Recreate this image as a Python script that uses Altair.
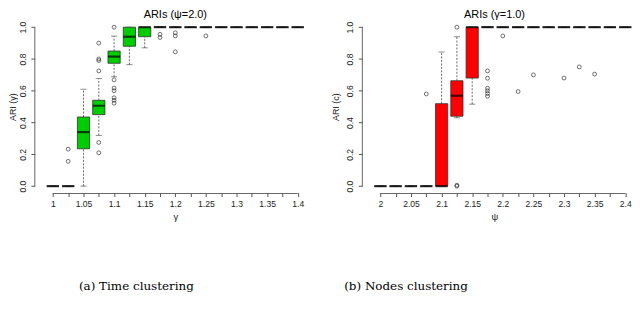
import altair as alt
import pandas as pd

# ---------------- data ----------------
gamma_labels = ["1", "1.025", "1.05", "1.075", "1.1", "1.125", "1.15", "1.175", "1.2",
                "1.225", "1.25", "1.275", "1.3", "1.325", "1.35", "1.375", "1.4"]
psi_labels = ["2", "2.025", "2.05", "2.075", "2.1", "2.125", "2.15", "2.175", "2.2",
              "2.225", "2.25", "2.275", "2.3", "2.325", "2.35", "2.375", "2.4"]

# (a) Time clustering, ARI(gamma), psi = 2.0
time_q1 = [0, 0, 0.235, 0.45, 0.773, 0.88, 0.94, 1, 1, 1, 1, 1, 1, 1, 1, 1, 1]
time_med = [0, 0, 0.34, 0.506, 0.815, 0.94, 1, 1, 1, 1, 1, 1, 1, 1, 1, 1, 1]
time_q3 = [0, 0, 0.435, 0.54, 0.85, 1, 1, 1, 1, 1, 1, 1, 1, 1, 1, 1, 1]
time_wlo = [0, 0, 0, 0.32, 0.688, 0.764, 0.87, 1, 1, 1, 1, 1, 1, 1, 1, 1, 1]
time_whi = [0, 0, 0.61, 0.677, 0.944, 1, 1, 1, 1, 1, 1, 1, 1, 1, 1, 1, 1]
time_out_cat = ["1.025", "1.025",
                "1.075", "1.075", "1.075", "1.075", "1.075", "1.075",
                "1.1", "1.1", "1.1", "1.1", "1.1", "1.1", "1.1",
                "1.175", "1.175", "1.2", "1.2", "1.2", "1.25"]
time_out_val = [0.233, 0.156,
                0.90, 0.80, 0.79, 0.725, 0.275, 0.21,
                1.0, 0.669, 0.617, 0.60, 0.556, 0.54, 0.522,
                0.955, 0.935, 0.965, 0.945, 0.845, 0.945]

# (b) Nodes clustering, ARI(c), gamma = 1.0
node_q1 = [0, 0, 0, 0, 0, 0.44, 0.68, 1, 1, 1, 1, 1, 1, 1, 1, 1, 1]
node_med = [0, 0, 0, 0, 0, 0.569, 1, 1, 1, 1, 1, 1, 1, 1, 1, 1, 1]
node_q3 = [0, 0, 0, 0, 0.519, 0.663, 1, 1, 1, 1, 1, 1, 1, 1, 1, 1, 1]
node_wlo = [0, 0, 0, 0, 0, 0.43, 0.516, 1, 1, 1, 1, 1, 1, 1, 1, 1, 1]
node_whi = [0, 0, 0, 0, 0.844, 0.94, 1, 1, 1, 1, 1, 1, 1, 1, 1, 1, 1]
node_out_cat = ["2.075", "2.125", "2.125", "2.125",
                "2.175", "2.175", "2.175", "2.175", "2.175", "2.175",
                "2.2", "2.225", "2.25", "2.3", "2.325", "2.35"]
node_out_val = [0.58, 1.0, 0.0, 0.006,
                0.725, 0.679, 0.616, 0.60, 0.583, 0.566,
                0.945, 0.595, 0.70, 0.68, 0.75, 0.705]

y_ticks = [0.0, 0.2, 0.4, 0.6, 0.8, 1.0]

# ---------------- styling ----------------
FONT = "Liberation Sans"
H = 172.8
STEP = 15.4
BOXW = 12.3


def panel(labels, q1, med, q3, wlo, whi, out_cat, out_val, fill, title, ytitle,
          xtitle, caption, caption_x, width, ytitle_pad):
    n = len(labels)
    xmax = -0.18 + width / STEP
    box = pd.DataFrame({"pos": list(range(1, n + 1)), "q1": q1, "med": med,
                        "q3": q3, "wlo": wlo, "whi": whi})
    out = pd.DataFrame({"pos": [labels.index(c) + 1 for c in out_cat], "val": out_val})
    shown = [l if i % 2 == 0 else "" for i, l in enumerate(labels)]
    label_expr = "[" + ",".join("'" + s + "'" for s in shown) + "][datum.value - 1]"

    xs = alt.Scale(domain=[-0.18, xmax], nice=False, zero=False, padding=0)
    ys = alt.Scale(domain=[-0.04, 1.04], nice=False, zero=False, padding=0)
    xaxis = alt.Axis(values=list(range(1, n + 1)), labelExpr=label_expr, title=xtitle,
                     domain=False, grid=False, tickSize=4, tickColor="#555",
                     labelPadding=3, labelFontSize=8.6, labelFont=FONT,
                     labelColor="#222", labelFlush=False, labelOverlap=False,
                     titleFont=FONT, titleFontSize=9.5, titleFontWeight="normal",
                     titleColor="#222", titlePadding=4)
    yaxis = alt.Axis(values=y_ticks, format=".1f", title=ytitle, domain=False, grid=False,
                     tickSize=4, tickColor="#555", labelAngle=270, labelPadding=3.5,
                     labelFontSize=8.6, labelFont=FONT, labelColor="#222",
                     labelFlush=False, labelOverlap=False,
                     titleFont=FONT, titleFontSize=9, titleFontWeight="normal",
                     titleColor="#222", titlePadding=ytitle_pad)

    X = alt.X("pos:Q", scale=xs, axis=xaxis)

    def Y(f):
        return alt.Y(f + ":Q", scale=ys, axis=yaxis)

    base = alt.Chart(box)
    wh_up = base.mark_rule(strokeDash=[2, 1.5], color="#444", strokeWidth=0.8).encode(
        x=X, y=Y("q3"), y2="whi")
    wh_lo = base.mark_rule(strokeDash=[2, 1.5], color="#444", strokeWidth=0.8).encode(
        x=X, y=Y("wlo"), y2="q1")
    cap_up = base.mark_tick(orient="horizontal", size=BOXW / 2, thickness=0.8,
                            color="#333").encode(x=X, y=Y("whi"))
    cap_lo = base.mark_tick(orient="horizontal", size=BOXW / 2, thickness=0.8,
                            color="#333").encode(x=X, y=Y("wlo"))
    boxes = base.mark_bar(size=BOXW, fill=fill, stroke="#333", strokeWidth=0.8).encode(
        x=X, y=Y("q1"), y2="q3")
    medians = base.mark_tick(orient="horizontal", size=BOXW, thickness=2.2,
                             color="black").encode(x=X, y=Y("med"))
    outliers = alt.Chart(out).mark_point(shape="circle", size=15, filled=False,
                                         stroke="black", strokeWidth=0.8).encode(
        x=X, y=Y("val"))

    yline_df = pd.DataFrame({"lo": [0.0], "hi": [1.0]})
    yline = alt.Chart(yline_df).mark_rule(color="#666", strokeWidth=1).encode(
        x=alt.value(0), y=Y("lo"), y2="hi")
    xline_df = pd.DataFrame({"pos": [1], "end": [n]})
    xline = alt.Chart(xline_df).mark_rule(color="#666", strokeWidth=1).encode(
        x=X, x2="end", y=alt.value(H + 1))
    cap_df = pd.DataFrame({"t": [caption]})
    cap = alt.Chart(cap_df).mark_text(font="DejaVu Serif", fontSize=12, color="black",
                                      baseline="middle", align="center").encode(
        x=alt.value(caption_x), y=alt.value(H + 94), text="t:N")

    return alt.layer(wh_up, wh_lo, cap_up, cap_lo, boxes, medians, outliers,
                     yline, xline, cap).properties(
        width=width, height=H,
        title=alt.TitleParams(title, font=FONT, fontSize=11, fontWeight="normal",
                              color="black", offset=1, anchor="middle"))


left = panel(gamma_labels, time_q1, time_med, time_q3, time_wlo, time_whi,
             time_out_cat, time_out_val, "#00CD00", "ARIs (ψ=2.0)", "ARI (γ)", "γ",
             "(a) Time clustering", 102.2, 282.8, 0.7)
right = panel(psi_labels, node_q1, node_med, node_q3, node_wlo, node_whi,
              node_out_cat, node_out_val, "#FF0000", "ARIs (γ=1.0)", "ARI (c)", "ψ",
              "(b) Nodes clustering", 44, 266, 5.7)

chart = alt.hconcat(left, right, spacing=14.6).properties(padding=0).configure_view(
    stroke=None)

chart.save("out.html", embed_options={"renderer": "svg", "actions": False})
